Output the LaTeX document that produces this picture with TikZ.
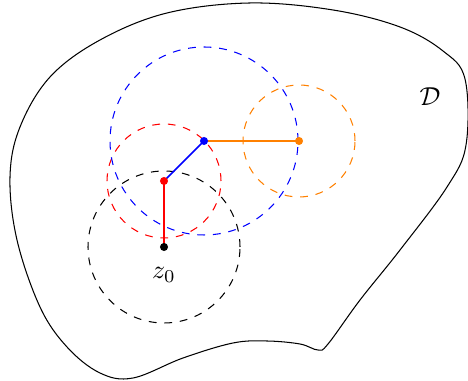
\documentclass[tikz,border=0pt]{standalone}
\usepackage{amsmath}
\usepackage{xcolor}
\usetikzlibrary{calc, positioning}

\begin{document}
\begin{tikzpicture}[x=0.385pt, y=0.385pt,
    ball/.style={thin, dash pattern=on 3pt off 3pt},
    link/.style={semithick},
    dot/.style={circle, inner sep=0pt, minimum size=3.1pt}]
    \useasboundingbox (0,0) rectangle (468,381);

    % Domain
    \draw[thin] plot[smooth cycle, tension=0.6] coordinates {
        (250,378) (333,371) (400,354) (443,330) (465,302) (466,236)
        (447,194) (400,131) (360,81) (328,37) (318,31) (300,37)
        (267,40) (233,38) (183,23) (133,3) (100,8) (67,34) (40,74)
        (17,141) (10,204) (20,254) (50,304) (100,341) (167,368)};
    \node (dom) at (430,284) {$\mathcal{D}$};

    % Centres
    \coordinate (z0) at (164,134);
    \coordinate (z1) at (164,200);
    \coordinate (z2) at (204,240);
    \coordinate (z3) at (299,240);

    % Balls
    \draw[ball, black] (z0) circle (76);
    \draw[ball, red] (z1) circle (57);
    \draw[ball, blue] (z2) circle (94);
    \draw[ball, orange] (z3) circle (56);

    % Chain
    \draw[link, red] (z0) -- (z1);
    \draw[link, blue] (z1) -- (z2);
    \draw[link, orange] (z2) -- (z3);

    \node[dot, fill=black] (p0) at (z0) {};
    \node[dot, fill=red] (p1) at (z1) {};
    \node[dot, fill=blue] (p2) at (z2) {};
    \node[dot, fill=orange] (p3) at (z3) {};
    \node (lab0) at (164,106) {$z_0$};
\end{tikzpicture}
\end{document}
